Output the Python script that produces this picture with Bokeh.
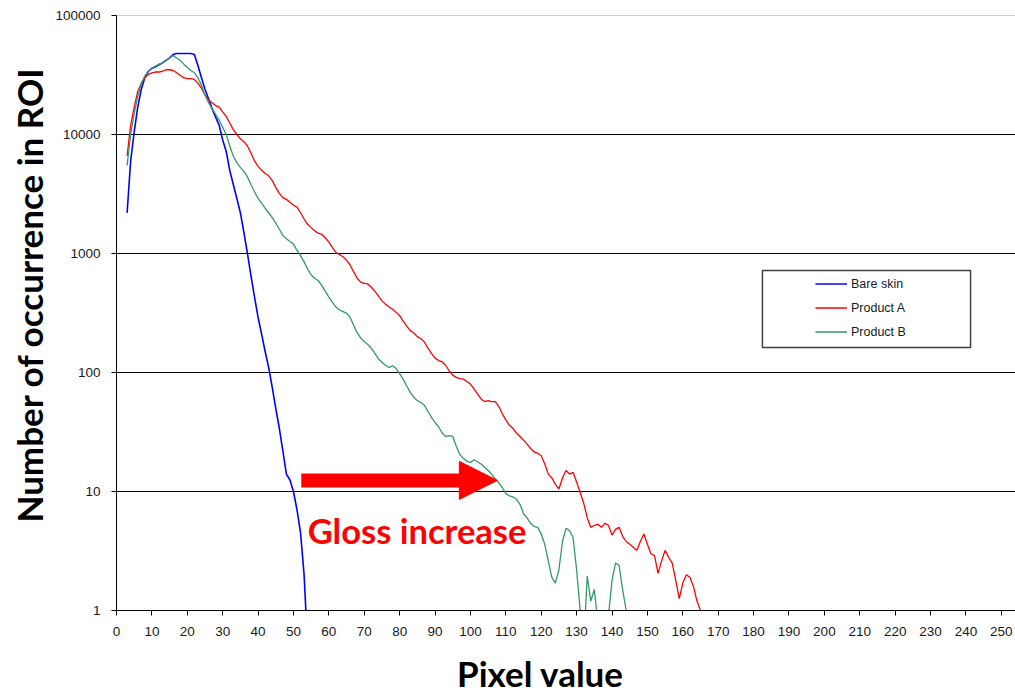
import math
from bokeh.plotting import figure
from bokeh.models import (Range1d, FixedTicker, PrintfTickFormatter, Label, Legend,
                          LegendItem, Span, BoxAnnotation, Arrow, NormalHead, Title)
from bokeh.embed import file_html
from bokeh.resources import INLINE

# ---------------- data ----------------
bare_x = list(range(3, 55))
bare_y = [2200, 6000, 10500, 17000, 24000, 30000, 34000, 36000, 37000, 38500,
          40000, 42000, 44000, 47000, 48000, 48000, 48000, 48000, 48000, 47000,
          38000, 30000, 24000, 20000, 16500, 14000, 12000, 9000, 7200, 5000,
          3800, 2900, 2200, 1500, 1000, 650, 430, 290, 210, 150,
          110, 75, 50, 34, 22, 14, 12.5, 10, 7, 4.5,
          2, 0.5]

prodA_x = list(range(3, 167))
prodA_y = [6600, 12000, 17000, 23000, 27000, 30000, 32000, 33000, 33500, 33500,
           34000, 35000, 35000, 34500, 33000, 31500, 30000, 29500, 29500, 29000,
           27000, 24500, 21500, 19500, 18500, 17500, 17000, 15500, 14200, 12500,
           11000, 10000, 9200, 8700, 8000, 7000, 6000, 5400, 5000, 4700,
           4500, 4100, 3600, 3200, 2950, 2850, 2700, 2550, 2450, 2200,
           1950, 1750, 1650, 1550, 1480, 1450, 1350, 1250, 1120, 1020,
           980, 940, 880, 800, 700, 620, 575, 560, 555, 520,
           480, 440, 400, 375, 355, 340, 320, 300, 270, 245,
           225, 215, 200, 192, 180, 160, 145, 132, 126, 123,
           115, 103, 95, 91, 89, 88, 84, 80, 73, 66,
           60, 57, 58, 57, 57, 52, 45, 40, 36, 34,
           31, 29, 27, 25, 23, 21.5, 21, 20, 17, 14,
           13, 11.5, 10.5, 13, 15, 14, 14.5, 12, 9.8, 8,
           6, 5, 5.2, 5.3, 5.0, 5.4, 5.2, 4.3, 4.8, 5,
           4.2, 3.8, 3.6, 3.4, 3.2, 3.8, 4.4, 3.6, 3, 2.9,
           2.05, 2.6, 3.2, 2.8, 2.5, 1.8, 1.26, 1.7, 2.0, 1.9,
           1.6, 1.2, 1.0, 0.5]

prodB_x = list(range(3, 146))
prodB_y = [5500, 10000, 15000, 21000, 26500, 31000, 34000, 36000, 37500, 39000,
           40000, 42000, 44000, 46000, 44000, 42000, 39000, 36500, 34500, 33000,
           30000, 26000, 21500, 18500, 16500, 14800, 13200, 11500, 10000, 8000,
           6600, 5800, 5300, 4900, 4400, 3800, 3300, 2900, 2650, 2400,
           2200, 2000, 1800, 1600, 1420, 1330, 1260, 1200, 1060, 960,
           850, 740, 660, 620, 590, 540, 480, 430, 390, 355,
           335, 325, 315, 290, 250, 215, 195, 182, 172, 160,
           145, 130, 122, 115, 110, 114, 108, 98, 88, 77,
           68, 62, 58, 56, 53, 47, 42, 38, 35, 31,
           29, 29.5, 29, 24, 20.5, 19, 18, 17.5, 18.5, 17.8,
           17, 16, 15, 14, 12.8, 11.8, 10.8, 9.6, 9.2, 9.0,
           8.6, 7.8, 6.5, 6.0, 5.4, 5.1, 5.0, 4.4, 3.6, 2.6,
           1.9, 1.7, 2.2, 3.8, 4.9, 4.7, 4.1, 2.2, 1.0, 0.5,
           1.95, 1.2, 1.5, 0.8, 0.5, 0.5, 0.9, 1.8, 2.5, 2.4,
           1.5, 1.0, 0.5]

x_ticks = list(range(0, 251, 10))
y_ticks = [1, 10, 100, 1000, 10000, 100000]
series_names = ["Bare skin", "Product A", "Product B"]
series_colors = ["#0000ff", "#ff0000", "#339966"]

# ---------------- figure ----------------
p = figure(width=1015, height=697, output_backend="svg", toolbar_location=None,
           y_axis_type="log", x_range=Range1d(0, 254), y_range=Range1d(1, 100000),
           min_border_left=116, min_border_right=0, min_border_top=15,
           min_border_bottom=87, background_fill_color="white",
           border_fill_color="white")
p.outline_line_color = None

tick_font = "Liberation Sans"
title_font = "Lato"
for ax in (p.xaxis, p.yaxis):
    ax.axis_line_color = "black"
    ax.axis_line_width = 1
    ax.major_tick_line_color = "black"
    ax.major_tick_in = 0
    ax.major_tick_out = 5
    ax.minor_tick_line_color = None
    ax.major_label_text_font = tick_font
    ax.major_label_text_font_size = "13.5px"
    ax.major_label_text_color = "#1a1a1a"

p.xaxis.ticker = FixedTicker(ticks=x_ticks)
p.xaxis.major_label_standoff = 11
# x-axis title (trailing no-break spaces shift the centred text left)
p.xaxis.axis_label = "Pixel value" + "\u00a0" * 6
p.xaxis.axis_label_standoff = 13
p.xaxis.axis_label_text_font = title_font
p.xaxis.axis_label_text_font_style = "bold"
p.xaxis.axis_label_text_font_size = "35px"
p.xaxis.axis_label_text_color = "black"

p.yaxis.ticker = FixedTicker(ticks=y_ticks)
p.yaxis.formatter = PrintfTickFormatter(format="%d")
p.yaxis.major_label_standoff = 11

p.xgrid.grid_line_color = None
p.ygrid.grid_line_color = "black"
p.ygrid.grid_line_width = 1

p.add_layout(Span(location=100000, dimension="width", line_color="#a0a0a0", line_width=1))

r1 = p.line(bare_x, bare_y, line_color=series_colors[0], line_width=1.6)
r2 = p.line(prodA_x, prodA_y, line_color=series_colors[1], line_width=1.3)
r3 = p.line(prodB_x, prodB_y, line_color=series_colors[2], line_width=1.3)

# legend frame
p.add_layout(BoxAnnotation(left=182.5, right=241.3, bottom=162.2, top=719.8,
                           fill_alpha=0, line_color="#404040", line_alpha=1,
                           line_width=1.5))

legend = Legend(items=[LegendItem(label=series_names[0], renderers=[r1]),
                       LegendItem(label=series_names[1], renderers=[r2]),
                       LegendItem(label=series_names[2], renderers=[r3])],
                location=(699, 268), padding=0, spacing=3, glyph_width=32,
                glyph_height=21, label_height=21, label_standoff=4, margin=0,
                label_text_font=tick_font, label_text_font_size="12.5px",
                label_text_color="#1a1a1a",
                border_line_alpha=0, background_fill_alpha=0)
p.add_layout(legend)

# arrow annotation
p.add_layout(Arrow(x_start=52.2, y_start=12.4, x_end=107.6, y_end=12.4,
                   line_color="#ff0000", line_width=14,
                   end=NormalHead(size=38, fill_color="#ff0000", line_color="#ff0000",
                                  line_width=1)))

p.add_layout(Label(x=54.0, y=4.69, text="Gloss increase", text_font=title_font,
                   text_font_style="bold", text_font_size="34.5px", text_color="#ff0000",
                   text_baseline="alphabetic", text_align="left"))

# y-axis title
p.add_layout(Title(text="Number of occurrence in ROI", align="left", offset=88,
                   standoff=6, text_font=title_font, text_font_style="bold",
                   text_font_size="35px", text_color="black"), "left")

open("out.html", "w").write(file_html(p, INLINE))
